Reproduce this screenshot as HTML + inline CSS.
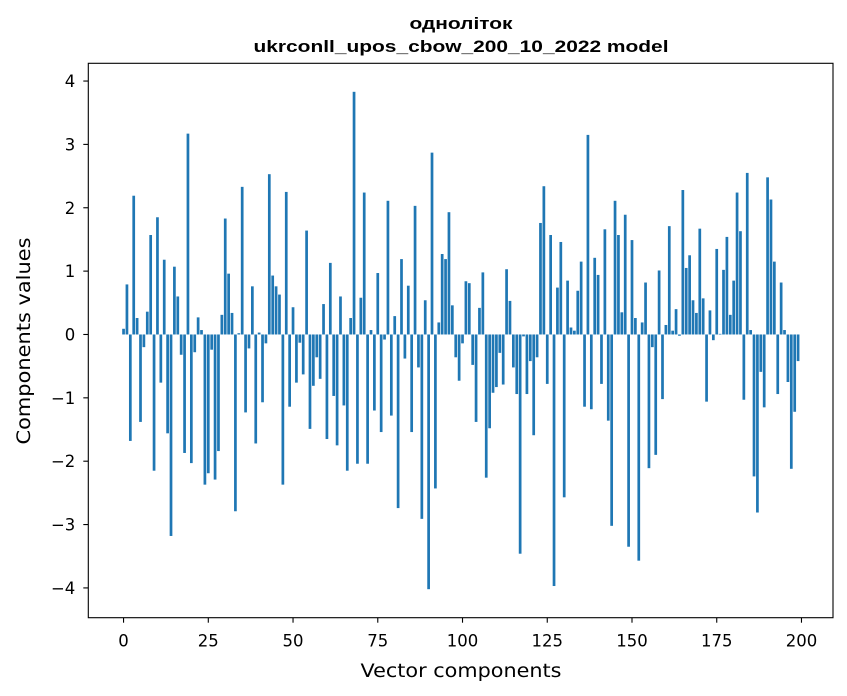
<!DOCTYPE html>
<html><head><meta charset="utf-8"><style>
html,body{margin:0;padding:0;background:#fff;}
svg{display:block;font-family:"DejaVu Sans","Liberation Sans",sans-serif;}
</style></head><body>
<svg id="chart" width="847" height="696" viewBox="0 0 847 696">
<text x="461" y="29" text-anchor="middle" font-size="17" font-weight="bold" font-family="Liberation Sans, sans-serif" textLength="103" lengthAdjust="spacingAndGlyphs">однолiток</text>
<text x="461" y="52" text-anchor="middle" font-size="17" font-weight="bold" font-family="Liberation Sans, sans-serif" textLength="415" lengthAdjust="spacingAndGlyphs">ukrconll_upos_cbow_200_10_2022 model</text>
<g id="bars"></g>
<g id="axes"></g>
<text x="461" y="677" text-anchor="middle" font-size="19" textLength="201" lengthAdjust="spacingAndGlyphs">Vector components</text>
<text transform="translate(30,341) rotate(-90)" text-anchor="middle" font-size="19" textLength="207" lengthAdjust="spacingAndGlyphs">Components values</text>
</svg>
<script>
const values = [0.09,0.79,-1.68,2.19,0.26,-1.38,-0.2,0.36,1.57,-2.15,
1.85,-0.76,1.18,-1.56,-3.18,1.07,0.6,-0.32,-1.87,3.17,
-2.03,-0.28,0.27,0.07,-2.37,-2.19,-0.24,-2.29,-1.84,0.31,
1.83,0.96,0.34,-2.79,0.02,2.33,-1.23,-0.22,0.76,-1.72,
0.03,-1.07,-0.14,2.53,0.93,0.76,0.63,-2.37,2.25,-1.14,
0.43,-0.76,-0.13,-0.63,1.64,-1.49,-0.81,-0.36,-0.7,0.48,
-1.65,1.13,-0.97,-1.75,0.6,-1.12,-2.15,0.26,3.83,-2.04,
0.58,2.24,-2.04,0.07,-1.2,0.97,-1.54,-0.08,2.11,-1.28,
0.29,-2.74,1.19,-0.38,0.77,-1.54,2.03,-0.52,-2.91,0.54,
-4.02,2.87,-2.43,0.19,1.27,1.19,1.93,0.46,-0.36,-0.73,
-0.14,0.84,0.81,-0.48,-1.38,0.42,0.98,-2.26,-1.48,-0.92,
-0.83,-0.29,-0.79,1.03,0.53,-0.52,-0.94,-3.46,-0.03,-0.94,
-0.42,-1.59,-0.36,1.76,2.34,-0.78,1.57,-3.97,0.74,1.46,
-2.57,0.85,0.11,0.06,0.69,1.15,-1.14,3.15,-1.18,1.21,
0.94,-0.78,1.66,-1.36,-3.02,2.11,1.57,0.35,1.89,-3.35,
1.49,0.26,-3.57,0.19,0.82,-2.11,-0.2,-1.9,1.01,-1.02,
0.15,1.71,0.06,0.4,-0.02,2.28,1.05,1.25,0.54,0.34,
1.67,0.57,-1.06,0.38,-0.09,1.35,0.01,1.02,1.54,0.31,
0.85,2.24,1.63,-1.03,2.55,0.07,-2.24,-2.81,-0.59,-1.15,
2.48,2.13,1.15,-0.94,0.82,0.07,-0.75,-2.12,-1.22,-0.42];
const xTicks = [0,25,50,75,100,125,150,175,200];
const yTicks = [-4,-3,-2,-1,0,1,2,3,4];
const yTickLabels = ["\u22124","\u22123","\u22122","\u22121","0","1","2","3","4"];

const L=88.3,R=833,T=63.3,B=617.7;
const xMin=-10.4,xMax=209.3,yMin=-4.47,yMax=4.28;
function sx(v){return L+(v-xMin)/(xMax-xMin)*(R-L);}
function sy(v){return B-(v-yMin)/(yMax-yMin)*(B-T);}
const NS="http://www.w3.org/2000/svg";
const bars=document.getElementById('bars');
const axes=document.getElementById('axes');
const bw=(sx(0.8)-sx(0));
values.forEach((v,i)=>{
  const r=document.createElementNS(NS,'rect');
  const y0=sy(0),y1=sy(v);
  r.setAttribute('x',sx(i)-bw/2);
  r.setAttribute('width',bw);
  r.setAttribute('y',Math.min(y0,y1));
  r.setAttribute('height',Math.abs(y1-y0));
  r.setAttribute('fill','#1f77b4');
  
  
  bars.appendChild(r);
});
const frame=document.createElementNS(NS,'rect');
frame.setAttribute('x',L);frame.setAttribute('y',T);
frame.setAttribute('width',R-L);frame.setAttribute('height',B-T);
frame.setAttribute('fill','none');frame.setAttribute('stroke','#000');frame.setAttribute('stroke-width','1.1');


axes.appendChild(frame);
xTicks.forEach(t=>{
  const x=sx(t);
  const l=document.createElementNS(NS,'line');
  l.setAttribute('x1',x);l.setAttribute('x2',x);l.setAttribute('y1',B);l.setAttribute('y2',B+5);
  l.setAttribute('stroke','#000');l.setAttribute('stroke-width','1.1');
  
  
  axes.appendChild(l);
  const tx=document.createElementNS(NS,'text');
  tx.setAttribute('x',x);tx.setAttribute('y',B+29);tx.setAttribute('text-anchor','middle');tx.setAttribute('font-size','16.5');
  tx.textContent=t;
  
  
  axes.appendChild(tx);
});
yTicks.forEach((t,i)=>{
  const y=sy(t);
  const l=document.createElementNS(NS,'line');
  l.setAttribute('x1',L-5);l.setAttribute('x2',L);l.setAttribute('y1',y);l.setAttribute('y2',y);
  l.setAttribute('stroke','#000');l.setAttribute('stroke-width','1.1');
  
  
  axes.appendChild(l);
  const tx=document.createElementNS(NS,'text');
  tx.setAttribute('x',L-13);tx.setAttribute('y',y+6);tx.setAttribute('text-anchor','end');tx.setAttribute('font-size','16.5');
  tx.textContent=yTickLabels[i];
  
  
  axes.appendChild(tx);
});
</script>
</body></html>
